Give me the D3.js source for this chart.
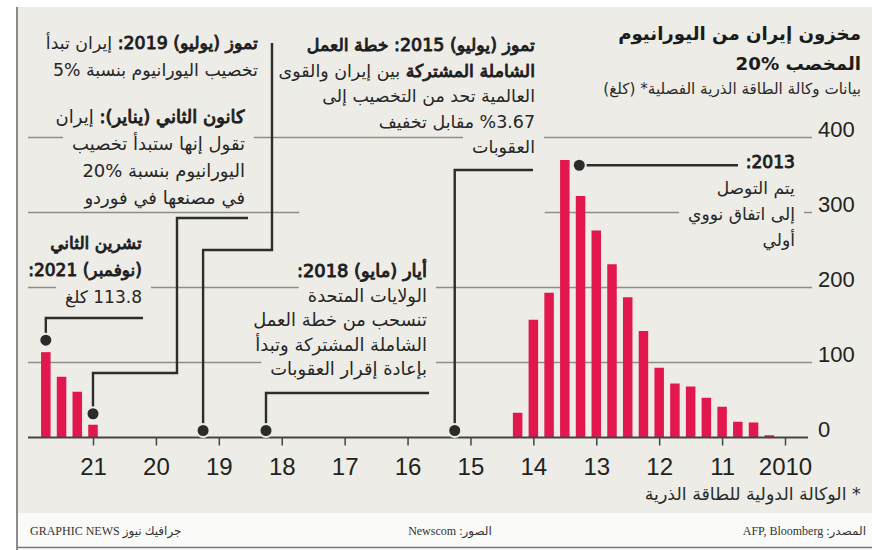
<!DOCTYPE html>
<html><head><meta charset="utf-8">
<script src="https://cdn.jsdelivr.net/npm/d3@7/dist/d3.min.js"></script>
<style>
body{margin:0;background:#fff;}
svg{display:block;}
</style></head><body>
<svg id="c" width="872" height="550"></svg>
<script>
// ---------------- DATA ----------------
const barDates2010 = [2010.25,2010.5,2010.75,2011.0,2011.25,2011.5,2011.75,2012.0,2012.25,2012.5,2012.75,2013.0,2013.25,2013.5,2013.75,2014.0,2014.25];
const barValues2010 = [3,20,21,41,53,68,72,93,142,187,231,276,322,370,193,157,33];
const barDates2021 = [2021.0,2021.25,2021.5,2021.75];
const barValues2021 = [17,61,81,113.8];
const yearTicks = [2010,2011,2012,2013,2014,2015,2016,2017,2018,2019,2020,2021];
const yearTickLabels = ["2010","11","12","13","14","15","16","17","18","19","20","21"];
const valueTicks = [0,100,200,300,400];
const eventDates = [2013.27,2015.25,2018.25,2019.25,2021.0,2021.75];
const eventValues = [363,0,0,0,17,113.8];

const titleLines = ["مخزون إيران من اليورانيوم","المخصب %20"];
const subtitle = "بيانات وكالة الطاقة الذرية الفصلية* (كلغ)";
const footnote = "* الوكالة الدولية للطاقة الذرية";
const sourceText = "المصدر: AFP, Bloomberg";
const photoText = "الصور: Newscom";
const creditText = "جرافيك نيوز GRAPHIC NEWS";

const note2013 = [[["2013:",1]],[["يتم التوصل",0]],[["إلى اتفاق نووي",0]],[["أولي",0]]];
const note2015 = [[["تموز (يوليو) 2015: خطة العمل",1]],[["الشاملة المشتركة",1],[" بين إيران والقوى",0]],[["العالمية تحد من التخصيب إلى",0]],[["%3.67 مقابل تخفيف",0]],[["العقوبات",0]]];
const note2018 = [[["أيار (مايو) 2018:",1]],[["الولايات المتحدة",0]],[["تنسحب من خطة العمل",0]],[["الشاملة المشتركة وتبدأ",0]],[["بإعادة إقرار العقوبات",0]]];
const note2019 = [[["تموز (يوليو) 2019:",1],[" إيران تبدأ",0]],[["تخصيب اليورانيوم بنسبة %5",0]]];
const noteJan = [[["كانون الثاني (يناير):",1],[" إيران",0]],[["تقول إنها ستبدأ تخصيب",0]],[["اليورانيوم بنسبة %20",0]],[["في مصنعها في فوردو",0]]];
const noteNov = [[["تشرين الثاني",1]],[["(نوفمبر) 2021:",1]],[["113.8 كلغ",0]]];

// ---------------- LAYOUT ----------------
const W = 872, H = 550;
const BG = "#edece6";
const BAR = "#e2174e";
const INK = "#262626";
const AR = "'DejaVu Sans', sans-serif";

const svg = d3.select("#c");
const x = d3.scaleLinear().domain([2010, 2021]).range([785, 93]);
const y = d3.scaleLinear().domain([0, 400]).range([437.5, 137.5]);

svg.append("rect").attr("width", W).attr("height", H).attr("fill", "#fff");
svg.append("rect").attr("x", 17).attr("y", 7).attr("width", W - 17).attr("height", 506).attr("fill", BG);
svg.append("rect").attr("x", 17).attr("y", 513).attr("width", W - 17).attr("height", 34).attr("fill", "#fafaf8");
svg.append("line").attr("x1", 17).attr("x2", 17).attr("y1", 7).attr("y2", 550).attr("stroke", "#666").attr("stroke-width", 1.5);
svg.append("line").attr("x1", 17).attr("x2", W).attr("y1", 547.5).attr("y2", 547.5).attr("stroke", "#777").attr("stroke-width", 1.5);

// gridlines
const gGrid = svg.append("g");
gGrid.selectAll("line").data(valueTicks.filter(v => v > 0)).join("line")
  .attr("x1", 28).attr("x2", 812).attr("y1", d => y(d)).attr("y2", d => y(d))
  .attr("stroke", "#8f8f89").attr("stroke-width", 1.3);

// mask layer for text boxes
const gMask = svg.append("g");
gMask.append("rect").attr("x", x(2017.72)).attr("width", x(2013.82) - x(2017.72))
  .attr("y", y(300) - 3).attr("height", 6).attr("fill", BG);

// bars
const bars = barDates2010.map((d, i) => ({d, v: barValues2010[i]}))
  .concat(barDates2021.map((d, i) => ({d, v: barValues2021[i]})));
const bw = 9.5;
svg.append("g").selectAll("rect").data(bars).join("rect")
  .attr("x", d => x(d.d) - bw / 2).attr("width", bw)
  .attr("y", d => y(d.v)).attr("height", d => y(0) - y(d.v))
  .attr("fill", BAR);

// baseline
svg.append("line").attr("x1", 28).attr("x2", 808).attr("y1", y(0)).attr("y2", y(0))
  .attr("stroke", "#444").attr("stroke-width", 1.8);

// x axis
const xAxis = d3.axisBottom(x).tickValues(yearTicks)
  .tickFormat((d, i) => yearTickLabels[i]).tickSize(8).tickPadding(12);
const gx = svg.append("g").attr("transform", `translate(0,${y(0)})`).call(xAxis);
gx.select(".domain").remove();
gx.selectAll(".tick line").attr("stroke", "#444").attr("stroke-width", 1.5);
gx.selectAll(".tick text").attr("fill", "#222")
  .style("font-family", "'Liberation Sans Narrow','Liberation Sans',sans-serif")
  .style("font-stretch", "condensed").style("font-size", "24px");

// y axis labels
const yAxis = d3.axisRight(y).tickValues(valueTicks).tickSize(0).tickPadding(0);
const gy = svg.append("g").attr("transform", "translate(818,0)").call(yAxis);
gy.select(".domain").remove();
gy.selectAll(".tick text").attr("fill", "#222").attr("dy", "-0.06em")
  .style("font-family", "'Liberation Sans',sans-serif").style("font-size", "22px");

// ---------------- TEXT HELPERS ----------------
const gText = svg.append("g");
// bold: real bold (title) or faux bold (annotations, keeps regular width)
function makeText(parent, segs, yc, size, color, realBold) {
  const c = color || INK;
  const t = parent.append("text")
    .attr("x", 0).attr("y", yc)
    .attr("direction", "rtl").attr("text-anchor", "start")
    .attr("dominant-baseline", "central")
    .style("font-family", AR).style("font-size", size + "px").attr("fill", c);
  segs.forEach(s => {
    const sp = t.append("tspan").text(s[0]);
    if (s[1] && realBold) sp.style("font-weight", "bold");
    else if (s[1]) sp.attr("stroke", c).attr("stroke-width", size * 0.055).attr("stroke-linejoin", "round").attr("fill", "#111");
  });
  return t;
}
function fitSize(segs, targetW, realBold) {
  const t = makeText(gText, segs, 0, 20, INK, realBold);
  const w = t.node().getBBox().width;
  t.remove();
  return 20 * targetW / w;
}
function rtlLine(parent, segs, right, yc, size, color, pad, realBold) {
  const t = makeText(parent, segs, yc, size, color, realBold);
  const b = t.node().getBBox();
  const dx = right - (b.x + b.width);
  t.attr("x", dx);
  if (pad != null) {
    gMask.append("rect").attr("x", b.x + dx - pad).attr("y", yc - 11)
      .attr("width", b.width + pad * 2).attr("height", 22).attr("fill", BG);
  }
  return t;
}
function block(lines, right, y0, lh, refLine, refW) {
  const size = fitSize(lines[refLine], refW);
  lines.forEach((segs, i) => rtlLine(gText, segs, right, y0 + i * lh, size, INK, 9));
}

// title
const tSize = fitSize([[titleLines[0], 1]], 243, true);
rtlLine(gText, [[titleLines[0], 1]], 861, 33, tSize, "#1b1b1b", null, true);
rtlLine(gText, [[titleLines[1], 1]], 861, 63, tSize, "#1b1b1b", null, true);
rtlLine(gText, [[subtitle, 0]], 861, 89, fitSize([[subtitle, 0]], 258), "#2a2a2a");
rtlLine(gText, [[footnote, 0]], 861, 494, fitSize([[footnote, 0]], 216), "#2a2a2a");

// annotations (fitted to reference widths of a plain line)
block(note2013, 795, 162, 26, 2, 107);
block(note2015, 535, 45, 25.5, 2, 213);
block(note2018, 427, 270, 24.5, 2, 174);
block(note2019, 258, 43, 27, 1, 205);
block(noteJan, 245, 116, 27, 1, 173);
block(noteNov, 142, 243, 27, 2, 77);

// connectors
const ex = i => x(eventDates[i]);
const baseDot = y(0) - 7;
const connectors = [
  [[ex(0), y(eventValues[0])], [738, y(eventValues[0])]],
  [[ex(1), baseDot], [ex(1), 170], [533, 170]],
  [[ex(2), baseDot], [ex(2), 393], [429, 393]],
  [[ex(3), baseDot], [ex(3), 250], [272, 250], [272, 43]],
  [[ex(4), y(eventValues[4]) - 11], [ex(4), 373], [177, 373], [177, 218], [248, 218]],
  [[ex(5), y(eventValues[5]) - 12], [ex(5), 318], [143, 318]]
];
const gConn = svg.append("g");
gConn.selectAll("path").data(connectors).join("path")
  .attr("d", d => d3.line()(d)).attr("fill", "none")
  .attr("stroke", "#2d2d2d").attr("stroke-width", 2.4);
gConn.selectAll("circle").data(connectors).join("circle")
  .attr("cx", d => d[0][0]).attr("cy", d => d[0][1]).attr("r", 6.5)
  .attr("fill", "#2b2b2b").attr("stroke", BG).attr("stroke-width", 2);

// footer
function footerText(txt, xx, anchor) {
  const t = svg.append("text").attr("y", 531).attr("dominant-baseline", "central")
    .attr("direction", "rtl").attr("x", 0).attr("text-anchor", "start")
    .style("font-family", "'Liberation Serif','DejaVu Sans',serif").style("font-size", "12px")
    .attr("fill", "#333").text(txt);
  const b = t.node().getBBox();
  let dx;
  if (anchor === "right") dx = xx - (b.x + b.width);
  else if (anchor === "left") dx = xx - b.x;
  else dx = xx - (b.x + b.width / 2);
  t.attr("x", dx);
}
footerText(sourceText, 866, "right");
footerText(photoText, 450, "middle");
footerText(creditText, 30, "left");
</script>
</body></html>
